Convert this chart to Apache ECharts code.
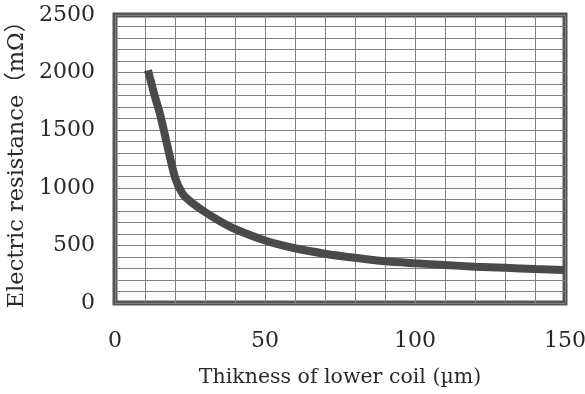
<!DOCTYPE html>
<html>
<head>
<meta charset="utf-8">
<script src="https://cdn.jsdelivr.net/npm/echarts@6/dist/echarts.min.js"></script>
<style>
  html, body { margin: 0; padding: 0; background: #fff; }
  #chart { width: 585px; height: 394px; }
</style>
</head>
<body>
<div id="chart"></div>
<script>
// 下层线圈厚度 (µm) 与电阻 (mΩ)
const thickness = [11, 13, 15, 17.5, 20, 22.5, 25, 30, 35, 40, 50, 60, 70, 80, 90, 100, 110, 120, 130, 140, 150]
const resistance = [2020, 1820, 1640, 1360, 1090, 950, 885, 790, 710, 642, 543, 475, 428, 392, 362, 345, 330, 315, 305, 295, 286]
const xLabels = [0, 50, 100, 150]
const yLabels = [0, 500, 1000, 1500, 2000, 2500]

const FONT = "'DejaVu Serif', 'Noto Sans CJK JP', serif"
const TEXT_COLOR = '#2a2a2a'
const GRID_COLOR = '#808080'

const chart = echarts.init(document.getElementById('chart'))

chart.setOption({
    animation: false,
    grid: {
        left: 115,
        right: 20,
        top: 15,
        bottom: 91,
        containLabel: false,
        outerBoundsMode: 'none',
        show: true,
        borderColor: '#555',
        borderWidth: 5
    },
    xAxis: {
        type: 'value',
        min: 0,
        max: 150,
        interval: 10,
        name: 'Thikness of lower coil (µm)',
        nameLocation: 'middle',
        nameGap: 64,
        nameTextStyle: { fontFamily: FONT, fontSize: 20.5, color: TEXT_COLOR },
        axisLine: { show: false },
        axisTick: { show: false },
        axisLabel: {
            fontFamily: FONT,
            fontSize: 22,
            color: TEXT_COLOR,
            margin: 27,
            formatter: v => (xLabels.includes(v) ? String(v) : '')
        },
        splitLine: { show: true, lineStyle: { color: GRID_COLOR, width: 1 } }
    },
    yAxis: {
        type: 'value',
        min: 0,
        max: 2500,
        interval: 100,
        name: 'Electric resistance（mΩ）',
        nameLocation: 'middle',
        nameGap: 84,
        nameRotate: 90,
        nameTextStyle: { fontFamily: FONT, fontSize: 22.5, color: TEXT_COLOR },
        axisLine: { show: false },
        axisTick: { show: false },
        axisLabel: {
            fontFamily: FONT,
            fontSize: 22,
            color: TEXT_COLOR,
            margin: 20,
            formatter: v => (yLabels.includes(v) ? String(v) : '')
        },
        splitLine: { show: true, lineStyle: { color: GRID_COLOR, width: 1 } }
    },
    series: [{
        type: 'line',
        data: thickness.map((x, i) => [x, resistance[i]]),
        smooth: 0.25,
        symbol: 'none',
        lineStyle: { color: '#4a4a4a', width: 8, cap: 'butt' }
    }]
})
</script>
</body>
</html>
